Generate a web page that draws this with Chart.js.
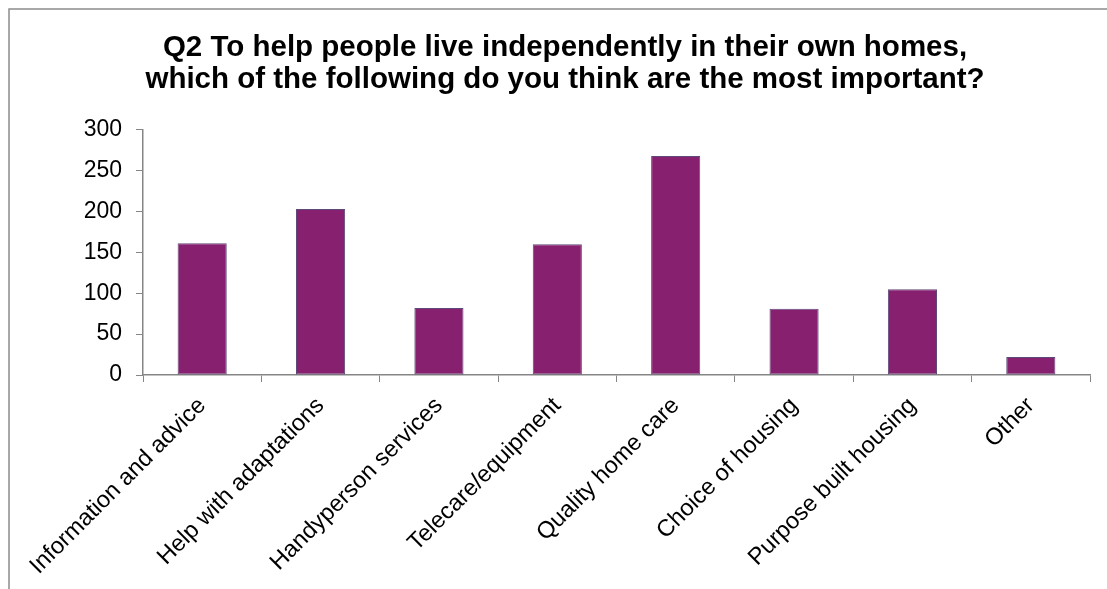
<!DOCTYPE html>
<html>
<head>
<meta charset="utf-8">
<script src="https://cdn.jsdelivr.net/npm/chart.js@4/dist/chart.umd.min.js"></script>
<style>
    body { margin: 0; background: #ffffff; }
    canvas { display: block; }
</style>
</head>
<body>
<canvas id="chart" width="1107" height="589"></canvas>
<script>
// Chart data
const titleLines = [
    'Q2 To help people live independently in their own homes,',
    'which of the following do you think are the most important?'
];
const categories = [
    'Information and advice',
    'Help with adaptations',
    'Handyperson services',
    'Telecare/equipment',
    'Quality home care',
    'Choice of housing',
    'Purpose built housing',
    'Other'
];
const responses = [161, 203, 82, 160, 268, 81, 105, 22];
const yTicks = [0, 50, 100, 150, 200, 250, 300];

const axisGrey = '#868686';
const fontFamily = 'Arial, "Liberation Sans", sans-serif';

// Outer frame of the chart (runs off the right and bottom edges)
const framePlugin = {
    id: 'frame',
    beforeDraw(chart) {
        const ctx = chart.ctx;
        ctx.save();
        ctx.fillStyle = '#ffffff';
        ctx.fillRect(0, 0, chart.width, chart.height);
        ctx.strokeStyle = '#8c8c8c';
        ctx.lineWidth = 1.5;
        ctx.strokeRect(9, 9, 1300, 800);
        ctx.restore();
    }
};

const ctx = document.getElementById('chart').getContext('2d');

new Chart(ctx, {
    type: 'bar',
    data: {
        labels: categories,
        datasets: [{
            label: 'Responses',
            data: responses,
            backgroundColor: '#87216f',
            borderColor: '#5e4a78',
            borderWidth: 1,
            borderSkipped: false,
            categoryPercentage: 1,
            barPercentage: 0.415
        }]
    },
    options: {
        responsive: false,
        animation: false,
        layout: {
            padding: { left: 40, right: 17, top: 18, bottom: 0 }
        },
        plugins: {
            legend: { display: false },
            tooltip: { enabled: false },
            title: {
                display: true,
                text: titleLines,
                color: '#000000',
                font: { family: fontFamily, size: 29.5, weight: 'bold', lineHeight: 1.08 },
                padding: { top: 14, bottom: 34 }
            }
        },
        scales: {
            x: {
                grid: {
                    offset: true,
                    drawOnChartArea: false,
                    drawTicks: true,
                    tickLength: 7,
                    color: axisGrey
                },
                border: { color: axisGrey, width: 1.5 },
                ticks: {
                    color: '#000000',
                    font: { family: fontFamily, size: 23.5 },
                    maxRotation: 45,
                    minRotation: 45,
                    autoSkip: false,
                    padding: 10
                },
                afterFit(scale) {
                    scale.height = 214;
                }
            },
            y: {
                min: 0,
                max: 300,
                afterBuildTicks(scale) {
                    scale.ticks = yTicks.map(v => ({ value: v }));
                },
                grid: {
                    drawOnChartArea: false,
                    drawTicks: true,
                    tickLength: 7,
                    color: axisGrey
                },
                border: { color: axisGrey, width: 1.5 },
                ticks: {
                    color: '#000000',
                    font: { family: fontFamily, size: 23 },
                    padding: 14
                },
                afterFit(scale) {
                    scale.width = 103;
                }
            }
        }
    },
    plugins: [framePlugin]
});
</script>
</body>
</html>
